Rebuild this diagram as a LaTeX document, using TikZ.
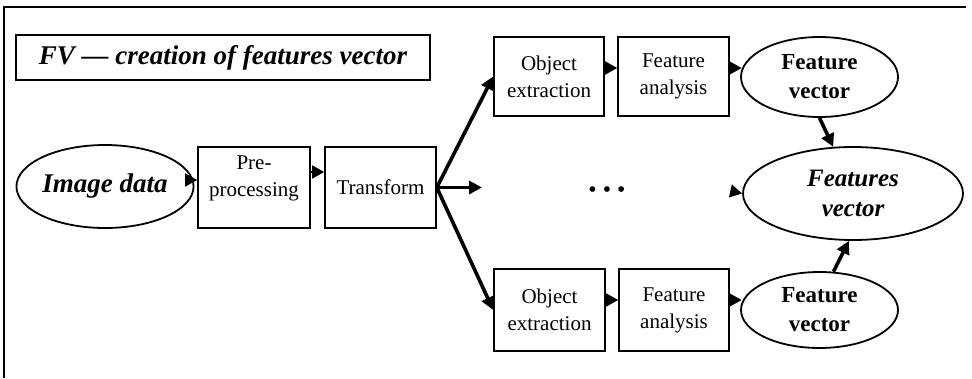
\documentclass[tikz,border=0pt]{standalone}
\usepackage{fontspec}
\setmainfont{Liberation Serif}
\usetikzlibrary{shapes.geometric,arrows.meta}
\tikzset{
  frameline/.style={line width=1.8pt},
  boxnode/.style={draw, line width=1.6pt, rectangle, inner sep=0pt, align=center,
    font=\fontsize{21}{27}\selectfont},
  textonly/.style={inner sep=0pt, align=center, font=\fontsize{21}{27}\selectfont},
  ovalnode/.style={draw, line width=1.8pt, ellipse, inner sep=0pt, align=center},
  smallarr/.style={line width=1.6pt, -{Triangle[length=12pt,width=13pt]}},
  thickarr/.style={line width=3.6pt, -{Triangle[length=13pt,width=13pt]}},
}
\begin{document}
\begin{tikzpicture}[x=1pt,y=-1pt]
\useasboundingbox (0,0) rectangle (972,378);
% outer frame
\draw[frameline] (4,378) -- (4,7) -- (966,7);
% title
\node[boxnode, minimum width=414pt, minimum height=45pt,
  font=\fontsize{27}{30}\selectfont\bfseries\itshape] (title) at (223,57.5)
  {FV --- creation of features vector};
% main chain
\node[ovalnode, minimum width=170pt, minimum height=83pt,
  font=\fontsize{27}{30}\selectfont\bfseries\itshape] (img) at (105,186.5) {Image data};
\node[boxnode, minimum width=112pt, minimum height=81pt] (pre) at (254,187.5) {};
\node[textonly] (pretxt) at (254,178) {Pre-\\processing};
\node[boxnode, minimum width=111pt, minimum height=81pt] (tr) at (380.5,187.5) {Transform};
% upper branch
\node[boxnode, minimum width=110pt, minimum height=79pt] (ob1) at (549,76.5) {Object\\extraction};
\node[boxnode, minimum width=111pt, minimum height=79pt] (fa1) at (673.5,76.5) {Feature\\analysis};
\node[ovalnode, minimum width=157pt, minimum height=80pt,
  font=\fontsize{23}{29}\selectfont\bfseries] (fv1) at (819.5,77) {Feature\\vector};
% lower branch
\node[boxnode, minimum width=111pt, minimum height=82pt] (ob2) at (549.5,310) {Object\\extraction};
\node[boxnode, minimum width=110pt, minimum height=82pt] (fa2) at (674,310) {Feature\\analysis};
\node[ovalnode, minimum width=157pt, minimum height=76pt,
  font=\fontsize{23}{29}\selectfont\bfseries] (fv2) at (819.5,310) {Feature\\vector};
% result
\node[ovalnode, minimum width=220pt, minimum height=93pt,
  font=\fontsize{25}{30}\selectfont\bfseries\itshape] (fvs) at (853,193.5) {Features\\vector};
% ellipsis
\node[font=\fontsize{21}{24}\selectfont\bfseries, inner sep=0pt] (dots) at (607,192)
  {•\hspace{7pt}•\hspace{7pt}•};
\coordinate (mid) at (482,187.5);
\coordinate (inn) at (733,191.5);
% connectors
\draw[smallarr] ([yshift=6.5pt]img.east) -- ([yshift=7.5pt]pre.west);
\draw[smallarr] ([yshift=15.5pt]pre.east) -- ([yshift=15.5pt]tr.west);
\draw[thickarr] (tr.east) -- (ob1.west);
\draw[thickarr] (tr.east) -- (mid);
\draw[thickarr] (tr.east) -- (ob2.west);
\draw[smallarr] ([yshift=8.5pt]ob1.east) -- ([yshift=8.5pt]fa1.west);
\draw[smallarr] ([yshift=8.5pt]fa1.east) -- ([yshift=9pt,xshift=1.5pt]fv1.west);
\draw[smallarr] ([yshift=10pt]ob2.east) -- ([yshift=10pt]fa2.west);
\draw[smallarr] ([yshift=10pt]fa2.east) -- ([yshift=10pt,xshift=1.5pt]fv2.west);
\draw[thickarr] (fv1.south) -- (fvs.113);
\draw[thickarr] (fv2.70) -- (fvs.265);
\draw[smallarr] (inn) -- (fvs.west);
\end{tikzpicture}
\end{document}
